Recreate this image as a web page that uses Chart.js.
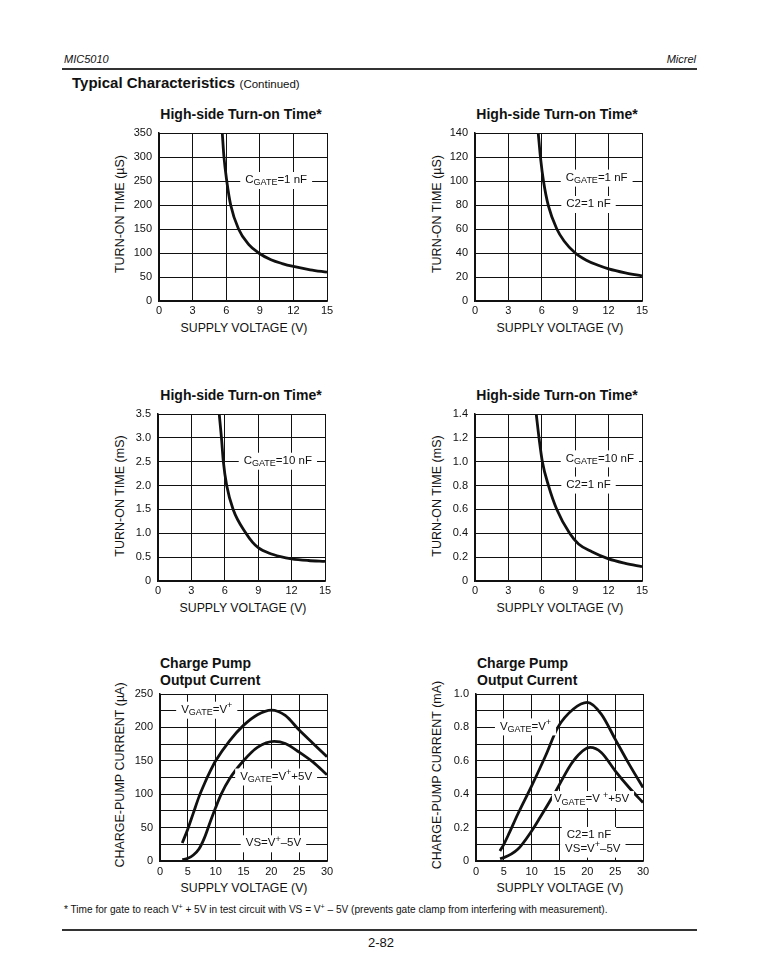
<!DOCTYPE html>
<html>
<head>
<meta charset="utf-8">
<script src="https://cdn.jsdelivr.net/npm/chart.js@4.4.0/dist/chart.umd.min.js"></script>
<style>
  body { margin: 0; background: #fff; font-family: "Liberation Sans", Arial, sans-serif; color: #111; }
  #page { position: relative; width: 762px; height: 978px; overflow: hidden; }
  .t { position: absolute; white-space: nowrap; }
  .c { transform: translate(-50%, -50%); }
  .v { transform: translate(-50%, -50%) rotate(-90deg); font-size: 12.5px; }
  .ax { font-size: 12.3px; }
  .ttl { font-size: 14px; font-weight: bold; }
  .cp { font-size: 14px; font-weight: bold; line-height: 17px; }
  .rule { position: absolute; left: 62px; width: 635px; height: 1.5px; background: #333; }
  canvas { position: absolute; }
  sup { font-size: 70%; line-height: 0; }
</style>
</head>
<body>
<div id="page">
  <div class="t" style="left:64px;top:53px;font-size:11px;font-style:italic">MIC5010</div>
  <div class="t" style="right:66px;top:53px;font-size:11px;font-style:italic">Micrel</div>
  <div class="rule" style="top:68px"></div>
  <div class="t" style="left:72px;top:74px"><b style="font-size:15px">Typical Characteristics</b> <span style="font-size:11.5px">(Continued)</span></div>

  <div class="t c ttl" style="left:241px;top:114px">High-side Turn-on Time*</div>
  <div class="t c ttl" style="left:557px;top:114px">High-side Turn-on Time*</div>
  <div class="t c ttl" style="left:241px;top:395px">High-side Turn-on Time*</div>
  <div class="t c ttl" style="left:557px;top:395px">High-side Turn-on Time*</div>
  <div class="t cp" style="left:160px;top:655px">Charge Pump<br>Output Current</div>
  <div class="t cp" style="left:477px;top:655px">Charge Pump<br>Output Current</div>

  <div class="t v" style="left:120px;top:214px">TURN-ON TIME (µS)</div>
  <div class="t v" style="left:437px;top:214px">TURN-ON TIME (µS)</div>
  <div class="t v" style="left:120px;top:496px">TURN-ON TIME (mS)</div>
  <div class="t v" style="left:437px;top:496px">TURN-ON TIME (mS)</div>
  <div class="t v" style="left:120px;top:775px">CHARGE-PUMP CURRENT (µA)</div>
  <div class="t v" style="left:437px;top:775px">CHARGE-PUMP CURRENT (mA)</div>

  <div class="t c ax" style="left:244px;top:328px">SUPPLY VOLTAGE (V)</div>
  <div class="t c ax" style="left:560px;top:328px">SUPPLY VOLTAGE (V)</div>
  <div class="t c ax" style="left:243px;top:608px">SUPPLY VOLTAGE (V)</div>
  <div class="t c ax" style="left:560px;top:608px">SUPPLY VOLTAGE (V)</div>
  <div class="t c ax" style="left:244px;top:888px">SUPPLY VOLTAGE (V)</div>
  <div class="t c ax" style="left:560px;top:888px">SUPPLY VOLTAGE (V)</div>

  <canvas id="c1"></canvas>
  <canvas id="c2"></canvas>
  <canvas id="c3"></canvas>
  <canvas id="c4"></canvas>
  <canvas id="c5"></canvas>
  <canvas id="c6"></canvas>

  <div class="t" style="left:64px;top:904px;font-size:10.1px">* Time for gate to reach V<sup>+</sup> + 5V in test circuit with VS = V<sup>+</sup> – 5V (prevents gate clamp from interfering with measurement).</div>
  <div class="rule" style="top:929px"></div>
  <div class="t c" style="left:381px;top:942px;font-size:13px">2-82</div>
</div>

<script>
// high-side turn-on time, CGATE = 1 nF (uS)
const volt1 = [5.65, 5.8, 6.05, 6.4, 7.1, 8, 8.9, 10, 11, 12, 13.5, 15];
const tonUs1 = [350, 300, 250, 200, 150, 118, 100, 86, 78, 72, 65, 60];
// CGATE = 1 nF, C2 = 1 nF (uS)
const volt2 = [5.68, 5.9, 6.15, 6.6, 7.35, 8, 9, 10, 11, 12, 13.5, 15];
const tonUs2 = [140, 118, 100, 79, 60, 50, 40, 34, 30, 26.8, 23.5, 21];
// CGATE = 10 nF (mS)
const volt3 = [5.5, 5.7, 5.87, 6.17, 6.75, 7.9, 8.5, 9, 10, 11, 12, 13.5, 15];
const tonMs3 = [3.5, 3.0, 2.5, 2.0, 1.5, 1.0, 0.81, 0.7, 0.58, 0.51, 0.465, 0.43, 0.41];
// CGATE = 10 nF, C2 = 1 nF (mS)
const volt4 = [5.5, 5.75, 6.05, 6.6, 7.35, 8.5, 9.3, 10.5, 12, 13.5, 15];
const tonMs4 = [1.4, 1.2, 1.0, 0.8, 0.6, 0.4, 0.31, 0.245, 0.185, 0.148, 0.12];

// charge pump output current (uA)
const pumpV5a = [4, 5, 6, 7, 8, 9, 10, 12.5, 15, 17.5, 20, 22.5, 25, 27.5, 30];
const pumpUa5a = [27, 48, 72, 96, 116, 134, 150, 180, 203, 219, 226, 218, 196, 176, 156];
const pumpV5b = [4, 5, 6, 7, 8, 9, 10, 11, 12.5, 15, 17.5, 20.5, 22.5, 25, 27.5, 30];
const pumpUa5b = [2, 4, 9, 18, 35, 58, 80, 100, 123, 150, 170, 179, 176, 163, 148, 129];
// charge pump output current, C2 = 1 nF (mA)
const pumpV6a = [4.3, 5, 6, 7.5, 10, 12.5, 14.7, 17.5, 20, 22.5, 25, 27.5, 30];
const pumpMa6a = [0.06, 0.1, 0.17, 0.28, 0.45, 0.63, 0.8, 0.91, 0.95, 0.88, 0.73, 0.58, 0.44];
const pumpV6b = [4.3, 5, 7.5, 10, 11.5, 14.2, 17.5, 20.5, 22.5, 25, 27.5, 30];
const pumpMa6b = [0.015, 0.02, 0.07, 0.18, 0.26, 0.41, 0.6, 0.68, 0.65, 0.54, 0.44, 0.35];

const FONT = '"Liberation Sans", Arial, sans-serif';
const TOP_PAD = 16;

// text labels sitting on the grid with a white knock-out behind them
const noteLabels = {
  id: 'noteLabels',
  afterDraw(chart, args, opts) {
    const { ctx, scales: { x, y } } = chart;
    (opts.items || []).forEach((it) => {
      const px = x.getPixelForValue(it.x);
      const py = y.getPixelForValue(it.y) - 1;
      const padL = it.padL ?? 5;
      ctx.save();
      let w = 0;
      const segs = it.parts.map(([txt, kind]) => {
        const size = kind ? 9 : 11.5;
        ctx.font = size + 'px ' + FONT;
        const m = ctx.measureText(txt).width;
        w += m;
        return { txt, kind, size, m };
      });
      ctx.fillStyle = '#fff';
      ctx.fillRect(px - padL, py - 8, w + padL + 5, 17);
      ctx.fillStyle = '#111';
      ctx.textBaseline = 'middle';
      let cx = px;
      segs.forEach((s) => {
        ctx.font = s.size + 'px ' + FONT;
        const off = s.kind === 'sub' ? 3 : s.kind === 'sup' ? -4 : 0;
        ctx.fillText(s.txt, cx, py + off);
        cx += s.m;
      });
      ctx.restore();
    });
  }
};

function pts(xs, ys) {
  return xs.map((v, i) => ({ x: v, y: ys[i] }));
}

function makeChart(id, box, series, xs, ys, notes) {
  const cv = document.getElementById(id);
  const [pl, pt, pr, pb] = box;
  cv.style.left = (pl - 60) + 'px';
  cv.style.top = (pt - TOP_PAD) + 'px';
  cv.width = pr - pl + 72;
  cv.height = pb - pt + TOP_PAD + 22;

  const scales = {
    x: {
      type: 'linear', min: xs.min, max: xs.max,
      afterFit: (s) => { s.height = 22; },
      ticks: { stepSize: xs.step, padding: xs.pad, autoSkip: false, color: '#111', font: { family: FONT, size: 11 } },
      grid: { color: '#111', lineWidth: 1, tickLength: 0 },
      border: { color: '#111', width: 1.5 }
    },
    y: {
      type: 'linear', min: ys.min, max: ys.max,
      afterFit: (s) => { s.width = 60; },
      ticks: { stepSize: ys.step, padding: 7, autoSkip: false, color: '#111', font: { family: FONT, size: 11 } },
      grid: { color: '#111', lineWidth: 1, tickLength: 0 },
      border: { color: '#111', width: 1.5 }
    }
  };
  if (ys.fmt) scales.y.ticks.callback = ys.fmt;
  if (ys.minor) {
    // finer horizontal grid without labels
    scales.yMinor = {
      type: 'linear', position: 'left', min: ys.min, max: ys.max,
      afterFit: (s) => { s.width = 0; },
      ticks: { stepSize: ys.minor, display: false },
      grid: { color: '#111', lineWidth: 1, tickLength: 0 },
      border: { display: false }
    };
  }

  new Chart(cv, {
    type: 'scatter',
    data: {
      datasets: series.map((s) => ({
        data: s,
        showLine: true,
        borderColor: '#111',
        borderWidth: 2.8,
        pointRadius: 0,
        cubicInterpolationMode: 'monotone',
        fill: false
      }))
    },
    options: {
      responsive: false,
      animation: false,
      layout: { padding: { left: 0, top: TOP_PAD, right: 12, bottom: 0 } },
      plugins: { legend: { display: false }, tooltip: { enabled: false }, noteLabels: { items: notes } },
      scales
    },
    plugins: [noteLabels]
  });
}

const vAxis15 = { min: 0, max: 15, step: 3, pad: 3 };
const vAxis30 = { min: 0, max: 30, step: 5, pad: 4 };
const fix1 = (v) => (v === 0 ? '0' : v.toFixed(1));

const cGate1 = [['C'], ['GATE', 'sub'], ['=1 nF']];
const cGate10 = [['C'], ['GATE', 'sub'], ['=10 nF']];
const c2 = [['C2=1 nF']];

makeChart('c1', [159, 133, 327, 301], [pts(volt1, tonUs1)], vAxis15,
  { min: 0, max: 350, step: 50 },
  [{ x: 7.7, y: 250, parts: cGate1 }]);

makeChart('c2', [475, 133, 642, 301], [pts(volt2, tonUs2)], vAxis15,
  { min: 0, max: 140, step: 20 },
  [{ x: 8.15, y: 102, parts: cGate1 }, { x: 8.2, y: 80, parts: c2 }]);

makeChart('c3', [158, 414, 325, 581], [pts(volt3, tonMs3)], vAxis15,
  { min: 0, max: 3.5, step: 0.5, fmt: fix1 },
  [{ x: 7.7, y: 2.5, parts: cGate10 }]);

makeChart('c4', [475, 414, 642, 581], [pts(volt4, tonMs4)], vAxis15,
  { min: 0, max: 1.4, step: 0.2, fmt: fix1 },
  [{ x: 8.15, y: 1.02, parts: cGate10 }, { x: 8.2, y: 0.8, parts: c2 }]);

makeChart('c5', [160, 694, 327, 861], [pts(pumpV5a, pumpUa5a), pts(pumpV5b, pumpUa5b)], vAxis30,
  { min: 0, max: 250, step: 50, minor: 25 },
  [
    { x: 3.8, y: 225, parts: [['V'], ['GATE', 'sub'], ['=V'], ['+', 'sup']] },
    { x: 14.4, y: 125, parts: [['V'], ['GATE', 'sub'], ['=V'], ['+', 'sup'], ['+5V']] },
    { x: 15.4, y: 25, parts: [['VS=V'], ['+', 'sup'], ['–5V']] }
  ]);

makeChart('c6', [476, 694, 643, 861], [pts(pumpV6a, pumpMa6a), pts(pumpV6b, pumpMa6b)], vAxis30,
  { min: 0, max: 1.0, step: 0.2, minor: 0.1, fmt: fix1 },
  [
    { x: 4.3, y: 0.8, parts: [['V'], ['GATE', 'sub'], ['=V'], ['+', 'sup']] },
    { x: 14.0, y: 0.365, padL: 2, parts: [['V'], ['GATE', 'sub'], ['=V '], ['+', 'sup'], ['+5V']] },
    { x: 16.3, y: 0.15, parts: c2 },
    { x: 16.0, y: 0.068, parts: [['VS=V'], ['+', 'sup'], ['–5V']] }
  ]);
</script>
</body>
</html>
